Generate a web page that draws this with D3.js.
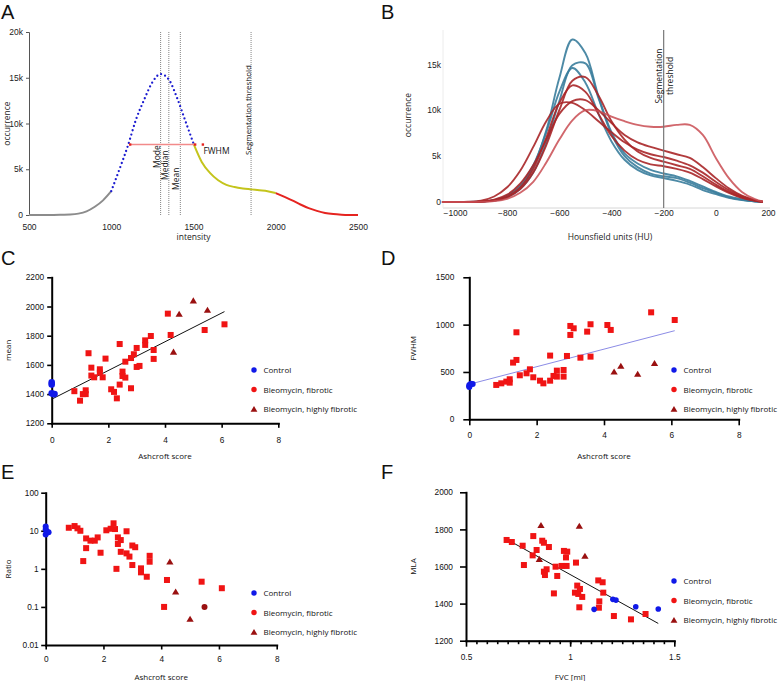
<!DOCTYPE html>
<html>
<head>
<meta charset="utf-8">
<script src="https://cdn.jsdelivr.net/npm/d3@7/dist/d3.min.js"></script>
<style>
  body { margin: 0; background: #fff; }
  svg { display: block; font-family: "Open Sans", sans-serif; }
  .ax path, .ax line { stroke: #000; }
  .ax text { fill: #111; font-size: 8.3px; }
</style>
</head>
<body>
<svg id="fig" width="778" height="681"></svg>
<script>
// ---------- panel A : intensity histogram (occurrence in k)
var aIntensity = [500,550,600,650,700,750,800,850,900,950,1000,1050,1100,1150,1200,1250,1300,1350,1400,1450,1500,
                  1550,1600,1650,1700,1750,1800,1850,1900,1950,2000,2050,2100,2150,2200,2250,2300,2350,2400,2450,2500];
var aCount = [0,0,0,0,0.02,0.05,0.15,0.4,0.9,1.6,2.6,5.0,7.5,10.4,12.6,14.5,15.4,14.8,12.8,10.3,7.8,
              5.8,4.6,3.8,3.3,3.05,2.9,2.8,2.7,2.6,2.4,2.0,1.6,1.15,0.75,0.45,0.22,0.1,0.04,0.01,0];
var aRanges = [[500,1000],[1000,1500],[1500,2000],[2000,2500]];
var aXTicks = [500,1000,1500,2000,2500];
var aYTicks = [0,5,10,15,20];
var aStats = [1300,1350,1420,1850];
var aStatNames = ["Mode","Median","Mean","Segmentation threshold"];
var aFwhm = [1115,1510];
var aFwhmLevel = 7.7;
var aFwhmMark = 1557;

// ---------- panel B : HU histograms (occurrence in k)
var bHU = [-1050,-1000,-950,-900,-850,-800,-750,-700,-650,-600,-550,-500,-450,-400,-350,-300,-250,-200,-150,-100,-50,0,50,100,150,180];
var bControl = [
  [0,0,0,0.05,0.2,0.6,1.6,3.8,7.8,13.5,17.7,16.2,11.5,7.6,5.3,4.2,3.5,3.1,2.8,2.3,1.7,1.1,0.6,0.3,0.08,0],
  [0,0,0,0.03,0.15,0.5,1.4,3.2,6.5,11.0,14.9,15.1,11.3,7.4,5.0,3.8,3.1,2.8,2.6,2.1,1.5,1.0,0.5,0.25,0.07,0],
  [0,0,0,0.05,0.2,0.7,1.8,4.0,7.6,12.0,14.6,13.0,9.6,6.6,4.6,3.5,2.9,2.6,2.3,1.9,1.3,0.85,0.45,0.2,0.06,0]
];
var bFibrotic = [
  [0,0,0,0.03,0.15,0.5,1.4,3.2,6.2,10.0,13.2,13.6,11.6,8.8,6.8,5.5,4.8,4.4,4.0,3.6,2.8,1.9,1.1,0.5,0.15,0],
  [0,0,0,0.05,0.25,0.8,2.0,4.0,6.8,9.6,11.0,11.1,10.0,8.6,7.3,6.5,6.0,5.6,5.2,4.8,3.8,2.6,1.5,0.7,0.2,0.05],
  [0,0,0.02,0.15,0.6,1.6,3.4,6.0,8.8,10.7,10.8,10.0,8.8,7.6,6.5,5.7,5.2,4.9,4.5,4.0,3.2,2.2,1.3,0.6,0.2,0.03],
  [0,0,0,0.04,0.2,0.6,1.6,3.6,7.0,10.8,12.7,12.0,9.6,7.2,5.6,4.6,4.1,3.9,3.6,3.2,2.5,1.7,1.0,0.45,0.12,0]
];
var bHighFibrotic = [0,0,0,0.02,0.1,0.35,1.0,2.2,4.3,6.8,8.9,10.0,9.9,9.3,8.8,8.4,8.2,8.2,8.4,8.4,7.3,4.8,2.6,1.1,0.3,0.05];
var bXTicks = [-1000,-800,-600,-400,-200,0,200];
var bYTicks = [0,5,10,15];
var bThreshold = -200;

// ---------- legends
var legendNames = ["Control","Bleomycin, fibrotic","Bleomycin, highly fibrotic"];

// ---------- panel C : mean vs Ashcroft
var cControl = [[0,1480],[0,1465],[0,1405],[0.05,1400],[0.1,1400]];
var cFibrotic = [[0.8,1420],[1.0,1355],[1.1,1400],[1.2,1426],[1.2,1400],[1.3,1680],[1.4,1581],[1.4,1527],[1.5,1515],
  [1.7,1570],[1.7,1547],[1.8,1515],[1.9,1643],[2.1,1433],[2.2,1415],[2.3,1371],[2.4,1743],[2.4,1465],[2.5,1554],
  [2.5,1524],[2.6,1513],[2.6,1622],[2.8,1440],[2.8,1647],[2.9,1673],[3.0,1716],[3.0,1586],[3.1,1593],[3.3,1768],
  [3.3,1737],[3.5,1798],[3.6,1702],[3.6,1641],[4.1,1951],[4.2,1805],[5.4,1839],[6.1,1878]];
var cHigh = [[4.5,1949],[5.0,2040],[5.5,1976],[4.3,1689]];
var cFit = [[0,1365],[6.1,1965]];

// ---------- panel D : FWHM vs Ashcroft
var dControl = [[0,350],[0,340],[0,362],[0.05,375],[0.1,372]];
var dFibrotic = [[0.8,363],[0.95,380],[1.1,398],[1.2,423],[1.2,387],[1.3,599],[1.4,627],[1.4,919],[1.5,465],[1.7,486],
  [1.8,528],[1.9,444],[2.1,408],[2.2,380],[2.4,408],[2.4,673],[2.5,458],[2.6,514],[2.6,451],[2.8,521],[2.8,451],
  [2.9,669],[3.0,891],[3.0,986],[3.1,961],[3.3,651],[3.5,926],[3.6,1004],[3.6,662],[4.1,996],[4.2,944],[5.4,1130],[6.1,1049]];
var dHigh = [[4.3,503],[4.5,563],[5.0,479],[5.5,592]];
var dFit = [[0,370],[6.1,936]];

// ---------- panel E : Ratio vs Ashcroft (log)
var eControl = [[0,13],[0,11],[0,8],[0.1,9.2],[0.03,9.8]];
var eFibrotic = [[0.8,12],[1.0,13.3],[1.1,11.6],[1.2,10],[1.3,1.6],[1.4,6.3],[1.4,3.5],[1.55,5.5],[1.7,5.5],[1.8,6.7],
  [1.9,2.65],[2.1,10.3],[2.25,11.3],[2.35,15.7],[2.4,11.1],[2.45,1.0],[2.5,6.7],[2.5,4.5],[2.6,5.7],[2.6,2.8],
  [2.8,9.7],[2.8,2.55],[2.9,2.1],[3.0,4.1],[3.0,1.26],[3.1,3.7],[3.3,1.03],[3.3,0.81],[3.5,0.62],[3.6,2.2],
  [3.6,1.54],[4.1,0.1],[4.2,0.51],[5.4,0.46],[6.1,0.31]];
var eHigh = [[4.3,1.54],[4.5,0.25],[5.0,0.048]];
var eHighRound = [[5.5,0.1]];

// ---------- panel F : MLA vs FVC
var fControl = [[1.115,1369],[1.205,1423],[1.22,1419],[1.315,1383],[1.423,1371]];
var fFibrotic = [[0.695,1743],[0.72,1732],[0.772,1712],[0.778,1608],[0.823,1764],[0.82,1660],[0.839,1689],[0.866,1739],
  [0.874,1728],[0.898,1705],[0.874,1572],[0.879,1554],[0.887,1585],[0.922,1455],[0.93,1599],[0.938,1549],[0.959,1603],
  [0.983,1603],[0.97,1684],[0.986,1680],[0.98,1649],[1.028,1621],[1.023,1459],[1.034,1497],[1.039,1452],[1.047,1479],
  [1.044,1380],[1.058,1436],[1.135,1525],[1.156,1515],[1.159,1459],[1.14,1412],[1.138,1378],[1.21,1333],[1.292,1315],[1.362,1344]];
var fHigh = [[0.86,1822],[0.852,1640],[1.044,1818],[1.071,1657]];
var fFit = [[0.695,1747],[1.423,1293]];

var svg = d3.select("#fig");

var blue = "#1019e8", red = "#f01414", darkRed = "#9a1010";

//panel letters
[["A",1,18.5],["B",381,18.5],["C",1,265],["D",381,265],["E",1,479],["F",381,479]].forEach(function (l) {
  svg.append("text").attr("x", l[1]).attr("y", l[2]).text(l[0])
    .style("font-family", "'Liberation Sans', sans-serif")
    .style("font-size", "20px").style("fill", "#111");
});

// ================= panel A
var xA = d3.scaleLinear().domain([500, 2500]).range([29, 358]);
var yA = d3.scaleLinear().domain([0, 20]).range([215, 32]);
var gA = svg.append("g");

var yAxA = gA.append("g").attr("transform", "translate(29,0)")
  .call(d3.axisLeft(yA).tickValues(aYTicks).tickSize(3).tickPadding(3)
    .tickFormat(function (d) { return d === 0 ? "0" : d + "k"; }));
yAxA.select(".domain").attr("stroke", "#555");
yAxA.selectAll("line").attr("stroke", "#555");
yAxA.selectAll("text").style("font-size", "8.5px").style("fill", "#222");

var xAxA = gA.append("g").attr("transform", "translate(0,215)")
  .call(d3.axisBottom(xA).tickValues(aXTicks).tickSize(0).tickPadding(9).tickFormat(d3.format("d")));
xAxA.select(".domain").remove();
xAxA.selectAll("text").style("font-size", "8.5px").style("fill", "#222");

gA.append("text").attr("x", xA(1500)).attr("y", 240).attr("text-anchor", "middle")
  .style("font-size", "8.5px").style("fill", "#222").text("intensity");
gA.append("text").attr("transform", "translate(10," + yA(10) + ") rotate(-90)")
  .attr("text-anchor", "middle").style("font-size", "8.5px").style("fill", "#222").text("occurrence");

// stat lines
var statBottom = [168, 180, 190, 155];
aStats.forEach(function (s, i) {
  gA.append("line").attr("x1", xA(s)).attr("x2", xA(s)).attr("y1", yA(20)).attr("y2", yA(0))
    .attr("stroke", "#666").attr("stroke-width", 0.8).attr("stroke-dasharray", "1,1");
  gA.append("text").attr("transform", "translate(" + (xA(s) - (i === 3 ? 0.5 : 1)) + "," + statBottom[i] + ") rotate(-90)")
    .style("font-size", i === 3 ? "8px" : "8.5px").style("fill", "#111").text(aStatNames[i]);
});

var pts = aIntensity.map(function (v, i) { return [v, aCount[i]]; });
var lineA = d3.line().x(function (d) { return xA(d[0]); }).y(function (d) { return yA(d[1]); })
  .curve(d3.curveMonotoneX);
var segColors = ["#8c8c8c", "#1c1cd0", "#c4c41c", "#e52420"];
aRanges.forEach(function (r, i) {
  var seg = pts.filter(function (d) { return d[0] >= r[0] && d[0] <= r[1]; });
  var p = gA.append("path").datum(seg).attr("d", lineA).attr("fill", "none")
    .attr("stroke", segColors[i]);
  if (i === 1) {
    p.attr("stroke-width", 2.3).attr("stroke-linecap", "round").attr("stroke-dasharray", "0,4.3");
  } else {
    p.attr("stroke-width", 2);
  }
});

// FWHM
gA.append("line").attr("x1", xA(aFwhm[0])).attr("x2", xA(aFwhm[1]))
  .attr("y1", yA(aFwhmLevel)).attr("y2", yA(aFwhmLevel))
  .attr("stroke", "#f28a8a").attr("stroke-width", 1.6);
aFwhm.concat([aFwhmMark]).forEach(function (v) {
  gA.append("rect").attr("x", xA(v) - 1.2).attr("y", yA(aFwhmLevel) - 1.2)
    .attr("width", 2.4).attr("height", 2.4).attr("fill", "#e52420");
});
gA.append("text").attr("x", xA(aFwhmMark) + 0.5).attr("y", yA(aFwhmLevel) + 9)
  .style("font-size", "8.5px").style("fill", "#111").text("FWHM");

// ================= panel B
var xB = d3.scaleLinear().domain([-1000, 200]).range([455, 768]);
var yB = d3.scaleLinear().domain([0, 15]).range([202, 64.3]);
var gB = svg.append("g");

gB.append("line").attr("x1", 443).attr("x2", 770).attr("y1", 208).attr("y2", 208)
  .attr("stroke", "#d6d6d6").attr("stroke-width", 1);
gB.append("line").attr("x1", 443).attr("x2", 443).attr("y1", 30).attr("y2", 208)
  .attr("stroke", "#ececec").attr("stroke-width", 1);

var xAxB = gB.append("g").attr("transform", "translate(0,208)")
  .call(d3.axisBottom(xB).tickValues(bXTicks).tickSize(0).tickPadding(2).tickFormat(d3.format("d")));
xAxB.select(".domain").remove();
xAxB.selectAll("text").style("font-size", "8.5px").style("fill", "#222");

var yAxB = gB.append("g").attr("transform", "translate(441,0)")
  .call(d3.axisLeft(yB).tickValues(bYTicks).tickSize(0).tickPadding(0)
    .tickFormat(function (d) { return d === 0 ? "0" : d + "k"; }));
yAxB.select(".domain").remove();
yAxB.selectAll("text").style("font-size", "8.5px").style("fill", "#222");

gB.append("text").attr("x", 610).attr("y", 240).attr("text-anchor", "middle")
  .style("font-size", "8.5px").style("fill", "#222").text("Hounsfield units (HU)");
gB.append("text").attr("transform", "translate(411,115) rotate(-90)")
  .attr("text-anchor", "middle").style("font-size", "8.5px").style("fill", "#222").text("occurrence");

var lineB = d3.line().x(function (d, i) { return xB(bHU[i]); }).y(function (d) { return yB(d); })
  .curve(d3.curveCatmullRom.alpha(0.5));
bControl.forEach(function (c) {
  gB.append("path").datum(c).attr("d", lineB).attr("fill", "none")
    .attr("stroke", "#3a7d9c").attr("stroke-width", 1.9).attr("stroke-opacity", 0.9);
});
bFibrotic.forEach(function (c) {
  gB.append("path").datum(c).attr("d", lineB).attr("fill", "none")
    .attr("stroke", "#a82628").attr("stroke-width", 1.9).attr("stroke-opacity", 0.9);
});
gB.append("path").datum(bHighFibrotic).attr("d", lineB).attr("fill", "none")
  .attr("stroke", "#c94c52").attr("stroke-width", 1.9).attr("stroke-opacity", 0.85);

gB.append("line").attr("x1", xB(bThreshold)).attr("x2", xB(bThreshold)).attr("y1", 30).attr("y2", 208)
  .attr("stroke", "#777").attr("stroke-width", 1.2);
gB.append("text").attr("transform", "translate(" + (xB(bThreshold) - 2) + ",76) rotate(-90)")
  .attr("text-anchor", "middle").style("font-size", "8.5px").style("fill", "#111").text("Segmentation");
gB.append("text").attr("transform", "translate(" + (xB(bThreshold) + 9) + ",76) rotate(-90)")
  .attr("text-anchor", "middle").style("font-size", "8.5px").style("fill", "#111").text("threshold");

// ================= scatter panels C-F
function marker(g, type, cx, cy, color, s) {
  if (type === "circle") {
    g.append("circle").attr("cx", cx).attr("cy", cy).attr("r", s).attr("fill", color);
  } else if (type === "square") {
    g.append("rect").attr("x", cx - s).attr("y", cy - s).attr("width", 2 * s).attr("height", 2 * s).attr("fill", color);
  } else {
    g.append("path").attr("d", "M" + cx + "," + (cy - s) + "L" + (cx + s * 1.1) + "," + (cy + s * 0.85) +
      "L" + (cx - s * 1.1) + "," + (cy + s * 0.85) + "Z").attr("fill", color);
  }
}

function scatterPanel(p) {
  var g = svg.append("g");
  var x = d3.scaleLinear().domain(p.xDomain).range(p.xRange);
  var y = (p.log ? d3.scaleLog() : d3.scaleLinear()).domain(p.yDomain).range(p.yRange);
  var fmt = function (d) { return String(d); };

  if (p.xMinor) {
    g.append("g").attr("class", "ax").attr("transform", "translate(0," + p.yRange[0] + ")")
      .call(d3.axisBottom(x).tickValues(p.xMinor).tickSize(3.5).tickFormat(""))
      .selectAll("line").attr("stroke-width", 1.6);
  }
  var gx = g.append("g").attr("class", "ax").attr("transform", "translate(0," + p.yRange[0] + ")")
    .call(d3.axisBottom(x).tickValues(p.xTicks).tickSizeInner(p.tick).tickSizeOuter(0).tickPadding(p.xPad).tickFormat(fmt));
  var gy = g.append("g").attr("class", "ax").attr("transform", "translate(" + p.xRange[0] + ",0)")
    .call(d3.axisLeft(y).tickValues(p.yTicks).tickSizeInner(p.tick).tickSizeOuter(0).tickPadding(p.yPad).tickFormat(fmt));
  [gx, gy].forEach(function (a) {
    a.select(".domain").attr("stroke-width", 2).attr("stroke-linecap", "square");
    a.selectAll(".tick line").attr("stroke-width", 1.6);
  });

  g.append("text").attr("x", (p.xRange[0] + p.xRange[1]) / 2).attr("y", p.xLabelY).attr("text-anchor", "middle")
    .style("font-size", "8px").style("fill", "#111").text(p.xLabel);
  g.append("text").attr("transform", "translate(" + p.yLabelX + "," + (p.yRange[0] + p.yRange[1]) / 2 + ") rotate(-90)")
    .attr("text-anchor", "middle").style("font-size", "8px").style("fill", "#111").text(p.yLabel);

  g.append("path").datum(p.fit)
    .attr("d", d3.line().x(function (d) { return x(d[0]); }).y(function (d) { return y(d[1]); }))
    .attr("stroke", p.fitColor).attr("stroke-width", 1).attr("fill", "none");

  p.fibrotic.forEach(function (d) { marker(g, "square", x(d[0]), y(d[1]), red, 3); });
  p.high.forEach(function (d) { marker(g, "triangle", x(d[0]), y(d[1]), darkRed, 3.3); });
  (p.highRound || []).forEach(function (d) { marker(g, "circle", x(d[0]), y(d[1]), darkRed, 3); });
  p.control.forEach(function (d) { marker(g, "circle", x(d[0]), y(d[1]), blue, p.ctrlR); });

  // legend
  var types = ["circle", "circle", "triangle"], cols = [blue, red, darkRed];
  legendNames.forEach(function (n, i) {
    var ly = p.legend[1] + i * 19.5;
    marker(g, types[i], p.legend[0], ly, cols[i], i === 2 ? 3.1 : 2.7);
    g.append("text").attr("x", p.legend[0] + 9.5).attr("y", ly + 3)
      .style("font-size", "8px").style("fill", "#111").text(n);
  });
}

scatterPanel({
  xDomain: [0, 8], xRange: [51.7, 278.3], yDomain: [1200, 2200], yRange: [423.3, 277.3],
  xTicks: [0, 2, 4, 6, 8], yTicks: [1200, 1400, 1600, 1800, 2000, 2200],
  tick: 4.5, xPad: 9, yPad: 3,
  xLabel: "Ashcroft score", xLabelY: 459, yLabel: "mean", yLabelX: 11,
  control: cControl, fibrotic: cFibrotic, high: cHigh, fit: cFit, fitColor: "#111", ctrlR: 3.3,
  legend: [254, 370]
});

scatterPanel({
  xDomain: [0, 8], xRange: [469.3, 738.7], yDomain: [0, 1500], yRange: [419.3, 277.3],
  xTicks: [0, 2, 4, 6, 8], yTicks: [0, 500, 1000, 1500],
  tick: 6, xPad: 7, yPad: 9,
  xLabel: "Ashcroft score", xLabelY: 459, yLabel: "FWHM", yLabelX: 416,
  control: dControl, fibrotic: dFibrotic, high: dHigh, fit: dFit, fitColor: "#8c8ce6", ctrlR: 3,
  legend: [674, 370]
});

scatterPanel({
  log: true,
  xDomain: [0, 8], xRange: [45.7, 276.7], yDomain: [0.01, 100], yRange: [645, 492.7],
  xTicks: [0, 2, 4, 6, 8], yTicks: [0.01, 0.1, 1, 10, 100],
  tick: 4.5, xPad: 7, yPad: 2.5,
  xLabel: "Ashcroft score", xLabelY: 680, yLabel: "Ratio", yLabelX: 11,
  control: eControl, fibrotic: eFibrotic, high: eHigh, highRound: eHighRound, fit: [], fitColor: "none", ctrlR: 3,
  legend: [254, 593]
});

scatterPanel({
  xDomain: [0.5, 1.5], xRange: [466, 674.3], yDomain: [1200, 2000], yRange: [640.7, 492.3],
  xTicks: [0.5, 1, 1.5], yTicks: [1200, 1400, 1600, 1800, 2000],
  xMinor: d3.range(0.55, 1.5, 0.05),
  tick: 6, xPad: 7, yPad: 7,
  xLabel: "FVC [ml]", xLabelY: 680, yLabel: "MLA", yLabelX: 416,
  control: fControl, fibrotic: fFibrotic, high: fHigh, fit: fFit, fitColor: "#111", ctrlR: 2.8,
  legend: [674, 581]
});
</script>
</body>
</html>
